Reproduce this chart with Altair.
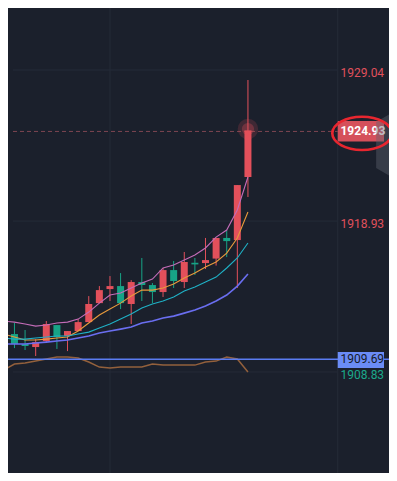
import altair as alt
import pandas as pd

# ---- data ----
idx = list(range(-1, 23))
opens  = [1910.70, 1911.37, 1910.70, 1910.50, 1910.90, 1911.97, 1911.24, 1911.57, 1912.17, 1913.44,
          1914.38, 1914.58, 1913.38, 1914.85, 1914.65, 1914.18, 1915.65, 1914.85, 1916.14, 1916.12,
          1916.42, 1917.80, 1917.66, 1921.88]
highs  = [1911.30, 1912.11, 1911.64, 1911.03, 1912.24, 1911.97, 1911.57, 1912.37, 1913.91, 1914.58,
          1915.25, 1915.45, 1914.98, 1916.46, 1914.78, 1915.79, 1916.26, 1916.86, 1916.46, 1917.80,
          1917.80, 1918.33, 1921.34, 1928.37]
lows   = [1910.55, 1910.43, 1910.30, 1909.90, 1910.77, 1910.37, 1910.23, 1911.57, 1912.17, 1913.44,
          1913.58, 1913.04, 1912.04, 1913.58, 1913.44, 1913.85, 1914.45, 1914.45, 1915.32, 1915.72,
          1915.95, 1916.52, 1914.45, 1920.54]
closes = [1911.24, 1910.70, 1910.57, 1910.83, 1912.04, 1911.17, 1911.57, 1912.17, 1913.38, 1914.31,
          1914.58, 1913.44, 1914.85, 1914.65, 1914.18, 1915.65, 1914.92, 1916.19, 1916.03, 1916.32,
          1917.80, 1917.59, 1921.34, 1925.00]

ma_pink   = [1912.24, 1912.17, 1912.04, 1911.90, 1911.97, 1912.11, 1912.17, 1912.37, 1912.84, 1913.44,
             1913.98, 1914.11, 1914.45, 1914.78, 1915.05, 1915.79, 1915.99, 1916.32, 1916.66, 1917.13,
             1917.86, 1918.33, 1919.67, 1921.88]
ma_orange = [1911.37, 1911.17, 1910.97, 1910.97, 1911.03, 1911.10, 1911.17, 1911.57, 1912.11, 1912.64,
             1913.04, 1913.44, 1913.91, 1914.31, 1914.31, 1914.45, 1914.72, 1915.12, 1915.45, 1915.85,
             1916.19, 1916.79, 1917.80, 1919.54]
ma_cyan   = [1911.10, 1911.03, 1911.03, 1911.10, 1911.17, 1911.24, 1911.24, 1911.37, 1911.50, 1911.77,
             1912.04, 1912.37, 1912.71, 1913.11, 1913.38, 1913.58, 1913.85, 1914.25, 1914.52, 1914.85,
             1915.18, 1915.79, 1916.46, 1917.46]
ma_blue   = [1910.70, 1910.70, 1910.70, 1910.77, 1910.83, 1910.90, 1910.97, 1911.10, 1911.24, 1911.44,
             1911.57, 1911.70, 1911.84, 1912.11, 1912.24, 1912.44, 1912.57, 1912.77, 1912.98, 1913.24,
             1913.58, 1913.98, 1914.58, 1915.39]
osc_brown = [1908.96, 1909.36, 1909.43, 1909.56, 1909.70, 1909.83, 1909.83, 1909.76, 1909.50, 1909.16,
             1909.09, 1909.16, 1909.16, 1909.16, 1909.36, 1909.29, 1909.29, 1909.29, 1909.29, 1909.50,
             1909.56, 1909.83, 1909.70, 1908.83]

grid_prices = [1929.04, 1918.93, 1908.83]
grid_labels = ["1929.04", "1918.93", "1908.83"]
last_price = 1924.93
last_label = "1924.93"
line_price = 1909.69
line_label = "1909.69"

# ---- layout / style ----
BG = "#1b202c"
GRID = "#252b38"
RED = "#e3505b"
GREEN = "#17a386"
X_DOM = [-0.1376, 34.82]
Y_DOM = [1902.07, 1933.19]
AXIS_X = 30.46      # separator between plot and price column
LABEL_X = 30.72

xs = alt.Scale(domain=X_DOM, nice=False, zero=False)
ys = alt.Scale(domain=Y_DOM, nice=False, zero=False)
X = lambda f: alt.X(f, type="quantitative", scale=xs, axis=None)
Y = lambda f: alt.Y(f, type="quantitative", scale=ys, axis=None)

candles = pd.DataFrame({"i": idx, "o": opens, "h": highs, "l": lows, "c": closes})
candles["col"] = [RED if c >= o else GREEN for o, c in zip(opens, closes)]

layers = []

# grid
hgrid = pd.DataFrame({"p": grid_prices, "x0": X_DOM[0], "x1": AXIS_X})
layers.append(alt.Chart(hgrid).mark_rule(color=GRID, strokeWidth=1).encode(
    x=X("x0"), x2="x1", y=Y("p")))
vgrid = pd.DataFrame({"x": [9, AXIS_X]})
layers.append(alt.Chart(vgrid).mark_rule(color=GRID, strokeWidth=1).encode(x=X("x")))

# dashed last-price line
dl = pd.DataFrame({"p": [last_price], "x0": X_DOM[0], "x1": AXIS_X})
layers.append(alt.Chart(dl).mark_rule(color="#7e4652", strokeWidth=1, strokeDash=[4, 3]).encode(
    x=X("x0"), x2="x1", y=Y("p")))

# oscillator + blue horizontal line
lines_df = pd.DataFrame({"i": idx, "pink": ma_pink, "orange": ma_orange, "cyan": ma_cyan,
                         "blue": ma_blue, "brown": osc_brown})
layers.append(alt.Chart(lines_df).mark_line(color="#93603c", strokeWidth=1.5, clip=True).encode(
    x=X("i"), y=Y("brown")))
layers.append(alt.Chart(pd.DataFrame({"p": [line_price]})).mark_rule(
    color="#5b7cf2", strokeWidth=1.5).encode(y=Y("p")))

# wicks and bodies
layers.append(alt.Chart(candles).mark_rule(strokeWidth=1, clip=True).encode(
    x=X("i"), y=Y("l"), y2="h", color=alt.Color("col:N", scale=None)))
layers.append(alt.Chart(candles).mark_bar(size=7, clip=True).encode(
    x=X("i"), y=Y("o"), y2="c", color=alt.Color("col:N", scale=None)))

# moving averages
for col, color, w in [("pink", "#c46cb8", 1.1), ("orange", "#e89a3c", 1.1),
                      ("cyan", "#1fb1c6", 1.1), ("blue", "#6a6ef0", 1.6)]:
    layers.append(alt.Chart(lines_df).mark_line(color=color, strokeWidth=w, clip=True).encode(
        x=X("i"), y=Y(col)))

# glow on the last candle
glow = pd.DataFrame({"i": [22], "p": [1925.09]})
layers.append(alt.Chart(glow).mark_circle(color=RED, size=420, opacity=0.18).encode(x=X("i"), y=Y("p")))
layers.append(alt.Chart(glow).mark_circle(color=RED, size=150, opacity=0.3).encode(x=X("i"), y=Y("p")))

# price labels
gl = pd.DataFrame({"p": grid_prices, "t": grid_labels, "x": LABEL_X,
                   "col": ["#e0505c", "#e0505c", "#1ba98b"]})
layers.append(alt.Chart(gl).mark_text(align="left", baseline="middle", dy=3, fontSize=12,
                                      font="Roboto").encode(
    x=X("x"), y=Y("p"), text="t:N", color=alt.Color("col:N", scale=None)))

# blue label box
bb = pd.DataFrame({"x0": [AXIS_X], "x1": [X_DOM[1]], "p0": [1910.16], "p1": [1909.09],
                   "x": [LABEL_X], "p": [line_price], "t": [line_label]})
layers.append(alt.Chart(bb).mark_rect(color="#6b8cf6").encode(x=X("x0"), x2="x1", y=Y("p0"), y2="p1"))
layers.append(alt.Chart(bb).mark_text(align="left", baseline="middle", fontSize=12, font="Roboto",
                                      color="#151a28").encode(x=X("x"), y=Y("p"), text="t:N"))

# red last-price box
rb = pd.DataFrame({"x0": [AXIS_X], "x1": [X_DOM[1]], "p0": [1925.63], "p1": [1924.25],
                   "x": [LABEL_X], "p": [last_price], "t": [last_label]})
layers.append(alt.Chart(rb).mark_rect(color="#d5505b").encode(x=X("x0"), x2="x1", y=Y("p0"), y2="p1"))
layers.append(alt.Chart(rb).mark_text(align="left", baseline="middle", fontSize=12, font="Roboto",
                                      fontWeight="bold", color="#ffffff").encode(
    x=X("x"), y=Y("p"), text="t:N"))

# grey tab on the right edge
tab = pd.DataFrame({"x": [34.08, 35.55], "top": [1925.56, 1926.16], "bot": [1922.48, 1921.88]})
layers.append(alt.Chart(tab).mark_area(color="#5f6470", opacity=0.42, clip=True).encode(
    x=X("x"), y=Y("top"), y2="bot"))

# red ellipse highlight
ell = pd.DataFrame({"x": [32.75], "p": [1924.80]})
ELLIPSE = "M -1 0 A 1 0.56 0 1 0 1 0 A 1 0.56 0 1 0 -1 0 Z"
layers.append(alt.Chart(ell).mark_point(shape=ELLIPSE, size=3540, filled=False, color="#e8262f",
                                        strokeWidth=2.6, opacity=1).encode(x=X("x"), y=Y("p")))

chart = alt.layer(*layers).properties(
    width=381, height=465, padding=0, autosize="none", background=BG
).configure_view(stroke=None)

chart.save("out.html", embed_options={"renderer": "svg", "actions": False})
